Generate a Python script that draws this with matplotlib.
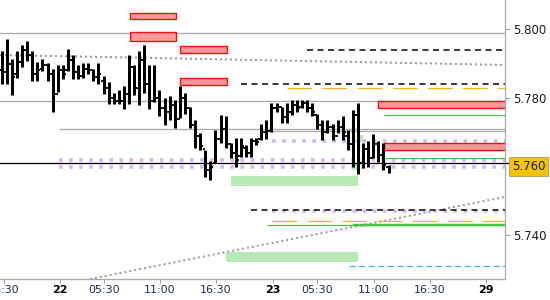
import matplotlib
matplotlib.use("Agg")
import matplotlib.pyplot as plt
from matplotlib.patches import Rectangle

# 30 min bars
highs = [5.7937, 5.7972, 5.7914, 5.7937, 5.7954, 5.7966, 5.7937, 5.7905, 5.7914, 5.7902,
         5.7884, 5.7896, 5.7896, 5.7943, 5.7925, 5.7896, 5.7903, 5.7903, 5.7884, 5.7903,
         5.7864, 5.7845, 5.7815, 5.7823, 5.7835, 5.7925, 5.7896, 5.7937, 5.7954, 5.7896,
         5.7896, 5.7823, 5.7800, 5.7806, 5.7794, 5.7835, 5.7815, 5.7774, 5.7736, 5.7698,
         5.7649, 5.7617, 5.7707, 5.7751, 5.7748, 5.7669, 5.7684, 5.7684, 5.7663, 5.7684,
         5.7684, 5.7724, 5.7736, 5.7785, 5.7785, 5.7774, 5.7785, 5.7794, 5.7794, 5.7794,
         5.7794, 5.7785, 5.7753, 5.7736, 5.7736, 5.7724, 5.7736, 5.7748, 5.7707, 5.7765,
         5.7785, 5.7669, 5.7675, 5.7695, 5.7675, 5.7669, 5.7605]
lows = [5.7841, 5.7841, 5.7809, 5.7858, 5.7890, 5.7908, 5.7849, 5.7849, 5.7879, 5.7849,
        5.7759, 5.7817, 5.7855, 5.7879, 5.7855, 5.7855, 5.7858, 5.7870, 5.7850, 5.7841,
        5.7812, 5.7783, 5.7783, 5.7783, 5.7769, 5.7783, 5.7809, 5.7780, 5.7815, 5.7769,
        5.7788, 5.7748, 5.7721, 5.7736, 5.7713, 5.7742, 5.7753, 5.7713, 5.7654, 5.7649,
        5.7570, 5.7561, 5.7611, 5.7669, 5.7654, 5.7625, 5.7599, 5.7628, 5.7628, 5.7628,
        5.7663, 5.7678, 5.7681, 5.7701, 5.7759, 5.7727, 5.7727, 5.7751, 5.7759, 5.7771,
        5.7759, 5.7748, 5.7710, 5.7678, 5.7698, 5.7678, 5.7698, 5.7678, 5.7649, 5.7599,
        5.7579, 5.7596, 5.7599, 5.7625, 5.7614, 5.7590, 5.7582]
opens = [5.7880, 5.7874, 5.7900, 5.7870, 5.7905, 5.7940, 5.7925, 5.7870, 5.7885, 5.7895,
         5.7870, 5.7810, 5.7880, 5.7880, 5.7910, 5.7875, 5.7865, 5.7885, 5.7880, 5.7860,
         5.7850, 5.7830, 5.7800, 5.7790, 5.7790, 5.7810, 5.7890, 5.7830, 5.7910, 5.7840,
         5.7790, 5.7800, 5.7770, 5.7760, 5.7780, 5.7740, 5.7800, 5.7770, 5.7720, 5.7690,
         5.7650, 5.7590, 5.7610, 5.7680, 5.7710, 5.7665, 5.7640, 5.7630, 5.7655, 5.7640,
         5.7675, 5.7680, 5.7700, 5.7705, 5.7770, 5.7775, 5.7745, 5.7760, 5.7780, 5.7775,
         5.7785, 5.7770, 5.7750, 5.7720, 5.7700, 5.7715, 5.7690, 5.7715, 5.7690, 5.7665,
         5.7750, 5.7610, 5.7650, 5.7625, 5.7665, 5.7635, 5.7600]
closes = [5.7874, 5.7900, 5.7860, 5.7905, 5.7940, 5.7925, 5.7870, 5.7880, 5.7895, 5.7870,
          5.7800, 5.7880, 5.7870, 5.7910, 5.7875, 5.7865, 5.7885, 5.7880, 5.7860, 5.7870,
          5.7830, 5.7800, 5.7790, 5.7790, 5.7810, 5.7890, 5.7830, 5.7910, 5.7840, 5.7790,
          5.7800, 5.7770, 5.7760, 5.7780, 5.7740, 5.7800, 5.7770, 5.7720, 5.7690, 5.7660,
          5.7590, 5.7600, 5.7680, 5.7710, 5.7665, 5.7640, 5.7620, 5.7660, 5.7640, 5.7675,
          5.7672, 5.7700, 5.7705, 5.7770, 5.7775, 5.7745, 5.7760, 5.7780, 5.7770, 5.7785,
          5.7770, 5.7760, 5.7720, 5.7700, 5.7715, 5.7690, 5.7715, 5.7700, 5.7665, 5.7750,
          5.7610, 5.7650, 5.7625, 5.7665, 5.7635, 5.7605, 5.7595]

tick_pos = [0.45, 11.45, 20.1, 31.1, 42.1, 53.3, 62.0, 73.1, 84.1, 95.1]
tick_lbl = ["16:30", "22", "05:30", "11:00", "16:30", "23", "05:30", "11:00", "16:30", "29"]
day_lbls = ["22", "23", "29"]

# horizontal levels: price and first bar index
gray_levels = [5.7989, 5.7791, 5.7711, 5.7704]
gray_starts = [-1, -1, 11.3, 53.1]
black_dash_levels = [5.7940, 5.7841, 5.7473]
black_dash_starts = [60.0, 47.0, 49.0]
orange_levels = [5.7829, 5.7442]
orange_starts = [56.0, 53.1]
purple_levels = [5.7620, 5.7598, 5.7676, 5.7470]
purple_starts = [11.3, 11.3, 53.1, 53.1]
green_levels = [5.7751, 5.7649, 5.7624, 5.7429]
green_starts = [75.1, 75.1, 75.0, 52.1]
green_bold_level = 5.7429
green_bold_start = 69.0
cyan_level = 5.7311
cyan_start = 68.2
last_price = 5.7611
last_label = "5.760"

# zones: x from, x to, low, high
red_zones = [(25.2, 34.2, 5.8029, 5.8048), (25.2, 34.2, 5.7967, 5.7992),
             (35.0, 44.3, 5.7930, 5.7951), (35.0, 44.3, 5.7839, 5.7859),
             (73.9, 99.0, 5.7771, 5.7791), (75.1, 99.0, 5.7649, 5.7670)]
green_zones = [(45.05, 70.0, 5.7544, 5.7573), (44.1, 70.0, 5.7323, 5.7352),
               (70.0, 71.0, 5.7672, 5.7692), (68.9, 70.0, 5.7591, 5.7611)]

# dotted trend lines (x0, p0, x1, p1)
trends = [(-0.33, 5.7925, 98.9, 5.7896), (17.35, 5.7273, 98.9, 5.7512)]

xmax = 98.88
px = 72 / 100  # points per pixel

fig = plt.figure(figsize=(5.5, 3.0), dpi=100)
ax = fig.add_axes([0, 0.07, 505 / 550, 0.93])
ax.set_xlim(-0.334, xmax)
ax.set_ylim(5.7273, 5.8085)

for p, s in zip(gray_levels, gray_starts):
    ax.hlines(p, s, xmax, color="#aaaaaa", lw=1.3 * px, zorder=1)
for x0, p0, x1, p1 in trends:
    ax.plot([x0, x1], [p0, p1], color="#999999", lw=2 * px, ls=(0, (1, 1.5)), zorder=1)
for p, s in zip(purple_levels, purple_starts):
    ax.hlines(p, s, xmax, color="#d6b6ef", lw=3.6 * px, linestyles=[(0, (1, 1.8))], zorder=1)
for p, s in zip(black_dash_levels, black_dash_starts):
    ax.hlines(p, s, xmax, color="black", lw=1.5 * px, linestyles=[(0, (4, 3))], zorder=2)
for p, s in zip(orange_levels, orange_starts):
    ax.hlines(p, s, xmax, color="#f5b325", lw=1.3 * px, linestyles=[(0, (19, 8))], zorder=2)
for p, s in zip(green_levels, green_starts):
    ax.hlines(p, s, xmax, color="#44c244", lw=1.2 * px, zorder=2)
ax.hlines(green_bold_level, green_bold_start, xmax, color="#44c244", lw=2.5 * px, zorder=2)
ax.hlines(cyan_level, cyan_start, xmax, color="#33b5ee", lw=1.2 * px,
          linestyles=[(0, (5, 3))], zorder=2)

for x0, x1, lo, hi in green_zones:
    ax.add_patch(Rectangle((x0, lo), x1 - x0, hi - lo, facecolor="#b5eab5",
                           edgecolor="none", zorder=1.5))
for x0, x1, lo, hi in red_zones:
    ax.add_patch(Rectangle((x0, lo), x1 - x0, hi - lo, facecolor="#ff9999",
                           edgecolor="#ee1111", lw=1.4 * px, zorder=2.5))

ax.plot([-1, 99.86], [last_price, last_price], color="black", lw=1.3 * px,
        zorder=3, clip_on=False)

# bars
for i in range(len(highs)):
    ax.vlines(i, lows[i], highs[i], color="black", lw=3 * px, zorder=4)
    ax.hlines(opens[i], i - 0.55, i, color="black", lw=1.8 * px, zorder=4)
    ax.hlines(closes[i], i, i + 0.55, color="black", lw=1.8 * px, zorder=4)

for s in ["left", "top"]:
    ax.spines[s].set_visible(False)
for s in ["right", "bottom"]:
    ax.spines[s].set_color("#aaaaaa")
    ax.spines[s].set_linewidth(1.3 * px)

ax.yaxis.tick_right()
ax.set_yticks([5.800, 5.780, 5.740], ["5.800", "5.780", "5.740"])
ax.tick_params(axis="y", length=5 * px, width=1 * px, color="#999999",
               labelsize=8.5, labelcolor="#1a1a2a", pad=2.5)
ax.set_xticks(tick_pos, tick_lbl)
ax.tick_params(axis="x", length=4 * px, width=1 * px, color="#999999",
               labelsize=8, labelcolor="#1b2b55", pad=1.5)
for t in ax.get_xticklabels():
    if t.get_text() in day_lbls:
        t.set_fontweight("bold")
        t.set_color("black")

ax.text(1.0135, 5.7601, last_label, transform=ax.get_yaxis_transform(),
        ha="left", va="center", fontsize=8.5, color="#1a1a2a", clip_on=False,
        bbox=dict(boxstyle="square,pad=0.25", facecolor="#f5c400", edgecolor="#b8a868",
                  lw=0.8))

fig.savefig("out.png", dpi=100)
